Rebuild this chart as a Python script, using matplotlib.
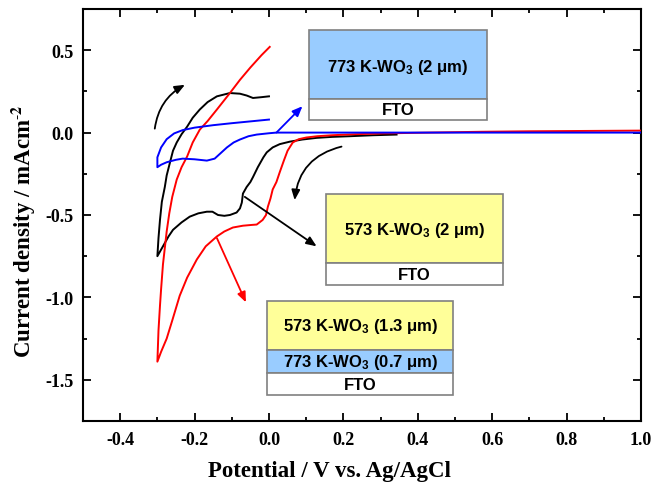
import matplotlib
matplotlib.use("Agg")
import matplotlib.pyplot as plt
from matplotlib.patches import Rectangle, FancyArrowPatch

# ---- data ----
blue_x = [0.0, -0.05, -0.10, -0.15, -0.20, -0.232, -0.255, -0.275, -0.29, -0.30, -0.30,
          -0.29, -0.275, -0.25, -0.232, -0.20, -0.167, -0.146, -0.13, -0.113, -0.095, -0.078,
          -0.055, -0.033, 0.0, 0.02, 0.1, 0.2, 0.4, 0.6, 0.8, 1.0]
blue_y = [0.079, 0.068, 0.057, 0.045, 0.030, 0.015, -0.005, -0.04, -0.09, -0.15, -0.21,
          -0.195, -0.18, -0.165, -0.158, -0.162, -0.17, -0.158, -0.125, -0.09, -0.06, -0.042,
          -0.022, -0.012, -0.004, 0.0, 0.0, 0.0, 0.0, 0.0, 0.0, 0.0]

black_x = [0.0, -0.02, -0.043, -0.06, -0.078, -0.105, -0.14, -0.165, -0.186, -0.205, -0.22,
           -0.235, -0.248, -0.258, -0.266, -0.275, -0.28, -0.288, -0.293, -0.297, -0.30,
           -0.29, -0.28, -0.27, -0.258, -0.235, -0.213, -0.19, -0.167, -0.152, -0.137, -0.12,
           -0.105, -0.087, -0.078, -0.073, -0.07, -0.06, -0.05, -0.043, -0.03, -0.015, -0.006,
           0.01, 0.029, 0.056, 0.09, 0.128, 0.17, 0.217, 0.28, 0.343]
black_y = [0.22, 0.215, 0.21, 0.225, 0.236, 0.24, 0.22, 0.185, 0.14, 0.09, 0.036,
           -0.01, -0.06, -0.11, -0.18, -0.26, -0.33, -0.42, -0.53, -0.64, -0.75,
           -0.71, -0.67, -0.63, -0.59, -0.545, -0.51, -0.49, -0.48, -0.48, -0.50, -0.505,
           -0.50, -0.485, -0.46, -0.425, -0.37, -0.33, -0.30, -0.27, -0.21, -0.15, -0.12,
           -0.09, -0.07, -0.055, -0.042, -0.032, -0.026, -0.022, -0.016, -0.012]

red_x = [0.002, -0.02, -0.05, -0.078, -0.105, -0.14, -0.165, -0.186, -0.205, -0.22, -0.235,
         -0.248, -0.26, -0.268, -0.275, -0.28, -0.285, -0.29, -0.293, -0.297, -0.30,
         -0.29, -0.275, -0.26, -0.24, -0.22, -0.194, -0.17, -0.14, -0.12, -0.097, -0.07,
         -0.045, -0.033, -0.017, -0.008, -0.003, 0.004, 0.01, 0.02, 0.029, 0.04, 0.05, 0.064,
         0.08, 0.10, 0.13, 0.17, 0.23, 0.305, 0.43, 0.57, 0.7, 0.85, 1.0]
red_y = [0.52, 0.47, 0.395, 0.32, 0.24, 0.14, 0.07, 0.018, -0.06, -0.145, -0.21,
         -0.285, -0.39, -0.49, -0.6, -0.7, -0.8, -0.95, -1.05, -1.2, -1.39,
         -1.33, -1.25, -1.14, -0.99, -0.88, -0.77, -0.69, -0.63, -0.60, -0.576, -0.565,
         -0.56, -0.558, -0.53, -0.50, -0.45, -0.40, -0.345, -0.30, -0.24, -0.17, -0.11, -0.06,
         -0.04, -0.03, -0.022, -0.016, -0.01, -0.005, 0.0, 0.005, 0.008, 0.01, 0.012]

x_ticks = [-0.4, -0.2, 0.0, 0.2, 0.4, 0.6, 0.8, 1.0]
y_ticks = [0.5, 0.0, -0.5, -1.0, -1.5]

box_labels = ["773 K-WO$_3$ (2 \u03bcm)", "573 K-WO$_3$ (2 \u03bcm)",
              "573 K-WO$_3$ (1.3 \u03bcm)", "773 K-WO$_3$ (0.7 \u03bcm)", "FTO"]

plt.rcParams["mathtext.fontset"] = "custom"
plt.rcParams["mathtext.rm"] = "Liberation Sans:bold"
plt.rcParams["mathtext.it"] = "Liberation Sans:bold"
plt.rcParams["mathtext.bf"] = "Liberation Sans:bold"

# ---- figure ----
fig = plt.figure(figsize=(6.57, 4.85), dpi=100)
ax = fig.add_axes([0.1263, 0.1299, 0.8493, 0.8495])

ax.plot(black_x, black_y, color="black", lw=1.4, zorder=3)
ax.plot(red_x, red_y, color="red", lw=1.4, zorder=4)
ax.plot(blue_x, blue_y, color="blue", lw=1.4, zorder=5)

ax.set_xlim(-0.5, 1.0)
ax.set_ylim(-1.75, 0.75)
ax.set_xticks(x_ticks)
ax.set_yticks(y_ticks)
ax.set_xticklabels(["%.1f" % v for v in x_ticks])
ax.set_yticklabels(["%.1f" % v for v in y_ticks])
ax.set_xticks([-0.5 + 0.1 * i for i in range(16)], minor=True)
ax.set_yticks([-1.75 + 0.25 * i for i in range(11)], minor=True)
ax.tick_params(which="both", direction="in", top=True, right=True, width=1.3)
ax.tick_params(which="major", length=6, pad=7)
ax.tick_params(which="minor", length=3)
for lab in ax.get_xticklabels() + ax.get_yticklabels():
    lab.set_fontfamily("Liberation Serif")
    lab.set_fontweight("bold")
    lab.set_fontsize(13)
for s in ax.spines.values():
    s.set_linewidth(1.5)

fig.text(330 / 657, 1 - 472 / 485, "Potential / V vs. Ag/AgCl", ha="center", va="center",
         fontfamily="Liberation Serif", fontweight="bold", fontsize=16.5)
fig.text(24 / 657, 1 - 231 / 485, r"Current density / mAcm$^{\text{-}\mathbf{2}}$", ha="center",
         va="center", rotation=90, fontfamily="Liberation Serif", fontweight="bold",
         fontsize=16.5, math_fontfamily="stix")

# ---- boxes ----
blue_c = "#99CCFF"
yel_c = "#FFFF99"
edge = "#808080"

def box(x0, x1, y0, y1, fc):
    ax.add_patch(Rectangle((x0, y0), x1 - x0, y1 - y0, facecolor=fc,
                           edgecolor=edge, lw=1.2, zorder=6))

def label(x, y, s, size=12):
    ax.text(x, y, s, ha="center", va="center", fontsize=size, fontweight="bold",
            fontfamily="Liberation Sans", zorder=7)

# box 1
box(0.107, 0.587, 0.206, 0.624, blue_c)
box(0.107, 0.587, 0.079, 0.206, "white")
label(0.347, 0.40, box_labels[0])
label(0.347, 0.142, box_labels[4])
# box 2
box(0.152, 0.630, -0.794, -0.37, yel_c)
box(0.152, 0.630, -0.927, -0.794, "white")
label(0.391, -0.59, box_labels[1])
label(0.391, -0.86, box_labels[4])
# box 3
box(-0.006, 0.496, -1.321, -1.024, yel_c)
box(-0.006, 0.496, -1.461, -1.321, blue_c)
box(-0.006, 0.496, -1.594, -1.461, "white")
label(0.245, -1.17, box_labels[2])
label(0.245, -1.39, box_labels[3])
label(0.245, -1.527, box_labels[4])

# ---- arrows ----
def arrow(p0, p1, color, rad=0.0):
    a = FancyArrowPatch(p0, p1, arrowstyle="-|>,head_length=6,head_width=2.5",
                        connectionstyle="arc3,rad=%g" % rad, color=color, lw=1.3,
                        zorder=8, shrinkA=0, shrinkB=0)
    ax.add_patch(a)

arrow((-0.307, 0.024), (-0.226, 0.29), "black", rad=-0.25)
arrow((0.195, -0.085), (0.069, -0.41), "black", rad=0.35)
arrow((-0.065, -0.39), (0.128, -0.69), "black")
arrow((0.02, 0.0), (0.09, 0.16), "blue")
arrow((-0.14, -0.64), (-0.062, -1.03), "red")

fig.savefig("out.png", dpi=100)
